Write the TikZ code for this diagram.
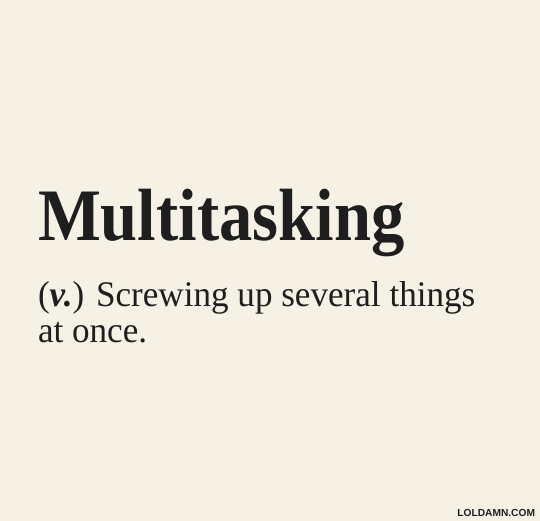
\documentclass[tikz,border=0pt]{standalone}
\usepackage{fontspec}
\setmainfont{Liberation Serif}
\newfontfamily\wmfont{Liberation Sans}
\definecolor{paper}{HTML}{F5F1E5}
\definecolor{ink}{HTML}{1E1E1E}
\begin{document}
\begin{tikzpicture}[x=1pt,y=1pt,
  txt/.style={inner sep=0pt, outer sep=0pt, anchor=base west, text=ink}]
\fill[paper] (0,0) rectangle (540,521);
\useasboundingbox (0,0) rectangle (540,521);
\node[txt, xscale=0.90, font=\fontsize{74}{80}\selectfont\bfseries] (title) at (38,280) {Multitasking};
\node[txt, xscale=0.975, font=\fontsize{36}{40}\selectfont] (def1) at (38,214) {(\textbf{\textit{v.}}) Screwing up several things};
\node[txt, xscale=0.975, font=\fontsize{36}{40}\selectfont] (def2) at (38,178) {at once.};
\node[txt, anchor=base east, font=\wmfont\fontsize{10.2}{12}\selectfont\bfseries] (wm) at (535,4) {LOLDAMN.COM};
\end{tikzpicture}
\end{document}
